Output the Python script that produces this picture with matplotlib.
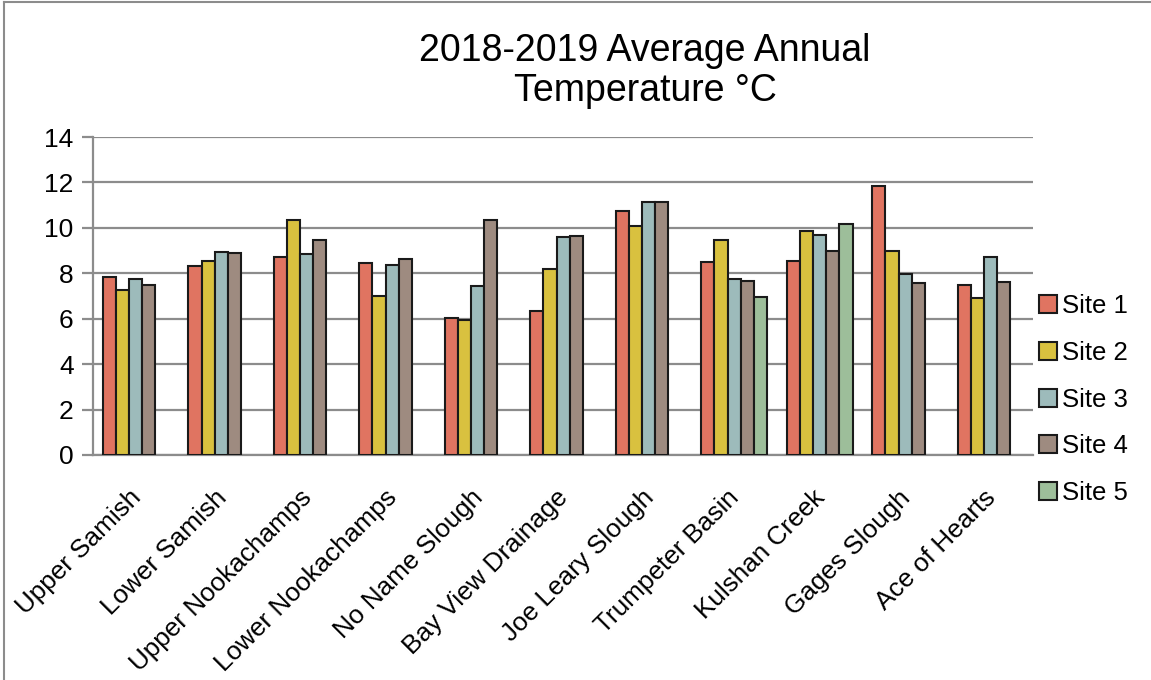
import matplotlib.pyplot as plt
import numpy as np
from matplotlib.lines import Line2D
from matplotlib.transforms import ScaledTranslation

plt.rcParams['font.family'] = ['Liberation Sans', 'DejaVu Sans']

sites = ["Upper Samish", "Lower Samish", "Upper Nookachamps", "Lower Nookachamps",
         "No Name Slough", "Bay View Drainage", "Joe Leary Slough", "Trumpeter Basin",
         "Kulshan Creek", "Gages Slough", "Ace of Hearts"]

site1 = [7.85, 8.3, 8.7, 8.45, 6.05, 6.35, 10.75, 8.5, 8.55, 11.85, 7.5]
site2 = [7.25, 8.55, 10.35, 7.0, 5.95, 8.2, 10.1, 9.45, 9.85, 9.0, 6.9]
site3 = [7.75, 8.95, 8.85, 8.35, 7.45, 9.6, 11.15, 7.75, 9.7, 7.95, 8.7]
site4 = [7.5, 8.9, 9.45, 8.65, 10.35, 9.65, 11.15, 7.65, 9.0, 7.55, 7.6]
site5 = [np.nan, np.nan, np.nan, np.nan, np.nan, np.nan, np.nan, 6.95, 10.15, np.nan, np.nan]

series = [site1, site2, site3, site4, site5]
labels = ["Site 1", "Site 2", "Site 3", "Site 4", "Site 5"]
colors = ["#E07461", "#D9C13F", "#9DBBBB", "#9E8B80", "#9DBE9A"]

fig = plt.figure(figsize=(11.51, 6.8), dpi=100)
ax = fig.add_axes([0.0808, 0.331, 0.817, 0.4675])

x = np.arange(len(sites))
w = 1 / 6.5
for i, (vals, lab, col) in enumerate(zip(series, labels, colors)):
    ax.bar(x + (i - 2) * w, vals, width=w, color=col, edgecolor="#1a1a1a",
           linewidth=1.5, label=lab, zorder=3)

ax.set_xlim(-0.5, len(sites) - 0.5)
ax.set_ylim(0, 14)
ax.set_yticks(range(0, 15, 2))
ax.yaxis.grid(True, color="#8c8c8c", linewidth=1.6, zorder=0)
ax.set_axisbelow(True)
for s in ["top", "right"]:
    ax.spines[s].set_visible(False)
ax.spines["left"].set_color("#8c8c8c")
ax.spines["left"].set_linewidth(1.6)
ax.spines["bottom"].set_color("#8c8c8c")
ax.spines["bottom"].set_linewidth(1.6)
ax.tick_params(axis="y", length=8, width=1.6, color="#8c8c8c", labelsize=19, pad=6)
ax.tick_params(axis="x", length=0, labelsize=18.8, pad=22)
ax.set_xticks(x)
ax.set_xticklabels(sites, rotation=45, ha="right", rotation_mode="anchor")
shift = ScaledTranslation(-7 / 100, 0, fig.dpi_scale_trans)
for lbl in ax.get_xticklabels():
    lbl.set_transform(lbl.get_transform() + shift)

fig.text(0.5604, 0.896, "2018-2019 Average Annual\nTemperature °C", ha="center",
         va="center", fontsize=27, linespacing=1.15)

ax.legend(loc="center left", bbox_to_anchor=(0.995, 0.174), frameon=False, fontsize=18.5,
          handlelength=0.7, handleheight=0.7, handletextpad=0.2, labelspacing=0.88,
          borderaxespad=0.0)

# thin frame around the chart area
fig.add_artist(Line2D([0.0035, 0.0035], [0, 0.997], color="#8c8c8c", linewidth=1.5,
                      transform=fig.transFigure))
fig.add_artist(Line2D([0.0035, 1], [0.997, 0.997], color="#8c8c8c", linewidth=1.5,
                      transform=fig.transFigure))

fig.savefig("out.png", dpi=100)
